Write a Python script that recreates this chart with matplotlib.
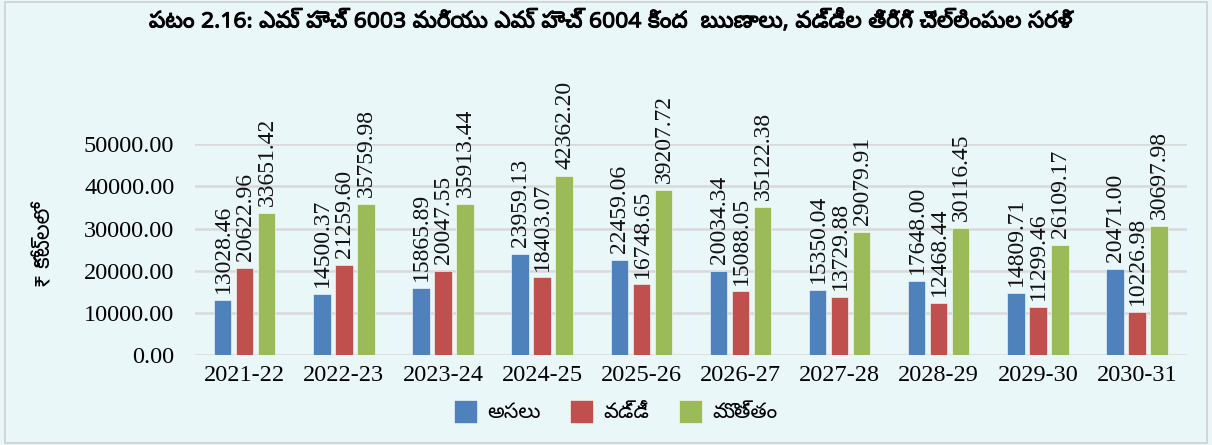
import matplotlib
matplotlib.use("Agg")
import matplotlib.pyplot as plt
import matplotlib.patheffects as pe
import numpy as np
from matplotlib.patches import Rectangle

years = ['2021-22', '2022-23', '2023-24', '2024-25', '2025-26',
         '2026-27', '2027-28', '2028-29', '2029-30', '2030-31']
asalu = [13028.46, 14500.37, 15865.89, 23959.13, 22459.06,
         20034.34, 15350.04, 17648.00, 14809.71, 20471.00]
vaddi = [20622.96, 21259.60, 20047.55, 18403.07, 16748.65,
         15088.05, 13729.88, 12468.44, 11299.46, 10226.98]
motham = [33651.42, 35759.98, 35913.44, 42362.20, 39207.72,
          35122.38, 29079.91, 30116.45, 26109.17, 30697.98]
series_names = ['అసలు', 'వడ్డీ', 'మొత్తం']
colors = ['#4F81BD', '#C0504D', '#9BBB59']

title = 'పటం 2.16: ఎమ్ హెచ్ 6003 మరియు ఎమ్ హెచ్ 6004 కింద  ఋణాలు, వడ్డీల తిరిగి చెల్లింపుల సరళి'
ylabel = '₹ కోట్లలో'

tel = ['Noto Sans Telugu', 'Hind Guntur', 'DejaVu Sans']
serif = ['Liberation Serif', 'DejaVu Serif']
bg = '#EAF7F8'

fig = plt.figure(figsize=(12.12, 4.45), dpi=100, facecolor=bg)
fig.patches.append(Rectangle((0.004, 0.004), 0.992, 0.992, transform=fig.transFigure,
                             fill=False, edgecolor='#D0D0D0', linewidth=1.2))
ax = fig.add_axes([0.161, 0.202, 0.818, 0.474], facecolor=bg)

x = np.arange(len(years))
w = 0.175
off = 0.222
for i, (vals, c, name) in enumerate(zip([asalu, vaddi, motham], colors, series_names)):
    xs = x + (i - 1) * off
    ax.bar(xs, vals, w, color=c, label=name, edgecolor='white', linewidth=0.4, zorder=3)
    for xi, v in zip(xs, vals):
        ax.annotate('%.2f' % v, (xi, v), xytext=(0.5, 5), textcoords='offset points',
                    rotation=90, ha='center', va='bottom', fontsize=17,
                    family=serif, clip_on=False, color='#111111')

ax.set_xlim(-0.5, len(years) - 0.5)
ax.set_ylim(0, 50000)
ax.set_yticks(np.arange(0, 50001, 10000))
ax.set_yticklabels(['%.2f' % t for t in np.arange(0, 50001, 10000)], family=serif, fontsize=17.5)
ax.set_xticks(x)
ax.set_xticklabels(years, family=serif, fontsize=17.5)
ax.tick_params(axis='y', length=0, pad=15)
ax.tick_params(axis='x', length=0, pad=7)
ax.yaxis.grid(True, color='#D9D9D9', linewidth=1.8, zorder=0)
for s in ax.spines.values():
    s.set_visible(False)

fig.text(0.037, 0.445, ylabel, rotation=90, ha='center', va='center', family=tel, fontsize=16)
fig.text(0.503, 0.952, title, ha='center', va='center', family=tel, fontsize=16.5,
         path_effects=[pe.withStroke(linewidth=0.7, foreground='black')])

leg = fig.legend(loc='center', bbox_to_anchor=(0.508, 0.075), ncol=3, frameon=False,
                 prop={'family': tel, 'size': 15}, handlelength=1.1, handleheight=1.3,
                 columnspacing=1.4, handletextpad=0.5)

fig.savefig('out.png', facecolor=bg)
